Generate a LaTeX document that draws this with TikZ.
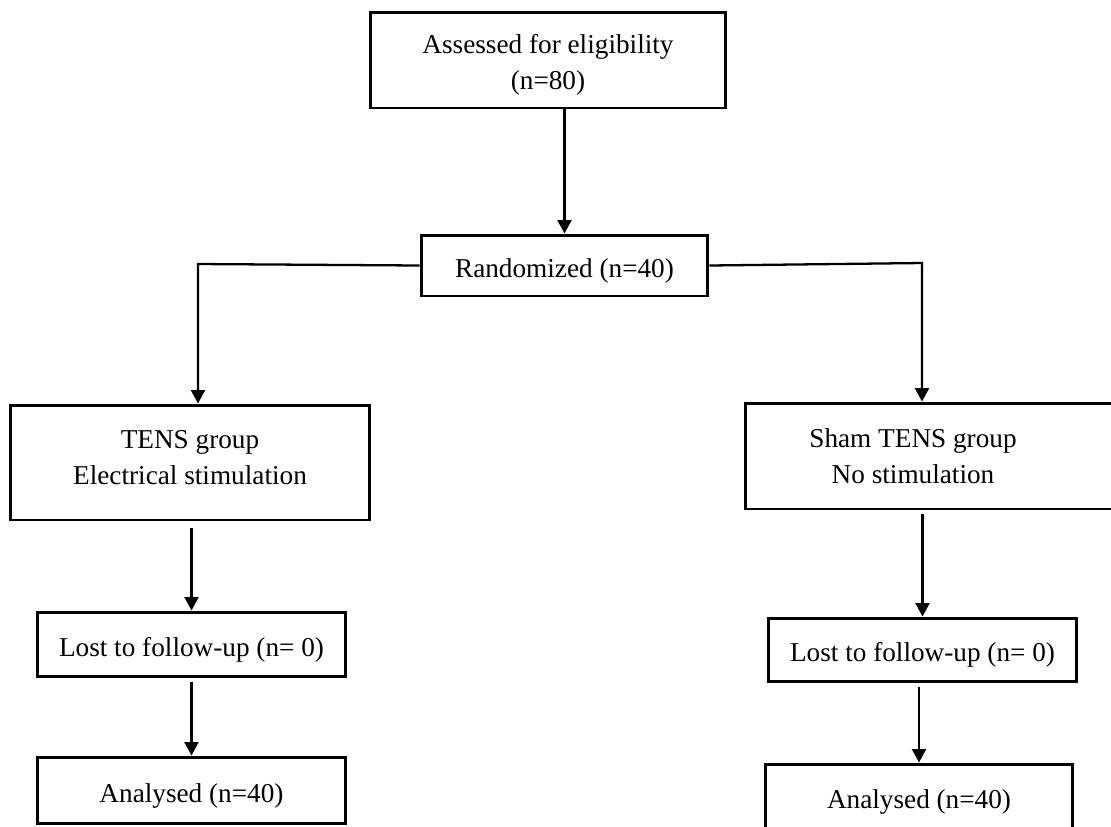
\documentclass[tikz,border=0pt]{standalone}
\usepackage{fontspec}
\setmainfont{Liberation Serif}
\usetikzlibrary{arrows.meta}

\tikzset{
  box/.style={draw, line width=1.7pt, rectangle, align=center, inner sep=0pt,
    font=\fontsize{15.5}{20.5}\selectfont},
  oneline/.style={text height=15pt, text depth=1pt},
  arr/.style={-{Triangle[width=0.28cm,length=0.27cm]}, line width=1.3pt}
}

\begin{document}
\begin{tikzpicture}[x=0.02cm, y=-0.02cm]
      % Page frame, cut at the lower and right edges
      \clip (0,0) rectangle (1111,826);

      % Top of the chart
      \node[box, minimum width=7.12cm, minimum height=1.92cm] (assess) at (548,60) {};
      \node[font=\fontsize{15.5}{20.5}\selectfont, align=center] (assesstxt) at (548,65)
        {Assessed for eligibility\\(n=80)};
      \node[box, oneline, minimum width=5.74cm, minimum height=1.22cm] (rand) at (564.5,265.5)
        {Randomized (n=40)};

      % The two arms
      \node[box, minimum width=7.2cm, minimum height=2.3cm] (tens) at (190,462.5) {};
      \node[font=\fontsize{15.5}{20.5}\selectfont, align=center] (tenstxt) at (190,458)
        {TENS group\\Electrical stimulation};
      \node[box, minimum width=7.4cm, minimum height=2.12cm] (sham) at (930,456) {};
      \node[font=\fontsize{15.5}{20.5}\selectfont, align=center] (shamtxt) at (913,456)
        {Sham TENS group\\No stimulation};

      % Follow-up and analysis
      \node[box, oneline, minimum width=6.18cm, minimum height=1.28cm] (lostL) at (191.5,644)
        {Lost to follow-up (n= 0)};
      \node[box, oneline, minimum width=6.18cm, minimum height=1.32cm] (anaL) at (191.5,790)
        {Analysed (n=40)};
      \node[box, oneline, minimum width=6.18cm, minimum height=1.26cm] (lostR) at (922.5,649.5)
        {Lost to follow-up (n= 0)};
      \node[box, minimum width=6.16cm, minimum height=1.44cm] (anaR) at (919,800)
        {};
      \node[font=\fontsize{15.5}{20.5}\selectfont] (anaRtxt) at (919,802)
        {Analysed (n=40)};

      % Corners of the split
      \coordinate (tl) at (198,264);
      \coordinate (tr) at (922,263);

      % Connectors
      \draw[arr] (rand.north |- assess.south) -- (rand.north);
      \draw[arr] (rand.west) -- (tl) -- (tl |- tens.north);
      \draw[arr] (rand.east) -- (tr) -- (tr |- sham.north);
      \draw[arr, shorten <=0.14cm] (lostL.north |- tens.south) -- (lostL.north);
      \draw[arr, shorten <=0.08cm] (anaL.north |- lostL.south) -- (anaL.north);
      \draw[arr, shorten <=0.08cm] (lostR.north |- sham.south) -- (lostR.north);
      \draw[arr, shorten <=0.08cm] (anaR.north |- lostR.south) -- (anaR.north);
    \end{tikzpicture}
\end{document}
